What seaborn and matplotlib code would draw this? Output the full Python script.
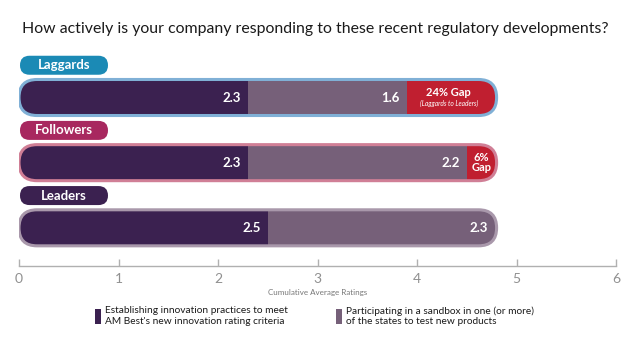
import matplotlib
matplotlib.use("Agg")
import matplotlib.pyplot as plt
import seaborn as sns
import numpy as np
from matplotlib.patches import FancyBboxPatch, Patch

# ---------------- data ----------------
categories = ["Laggards", "Followers", "Leaders"]
establishing = [2.3, 2.3, 2.5]
sandbox = [1.6, 2.2, 2.3]
gap = [0.9, 0.3, 0.0]
gap_labels = ["24% Gap", "6%\nGap", ""]
gap_sublabels = ["(Laggards to Leaders)", "", ""]
series_names = ["Establishing innovation practices to meet\nAM Best's new innovation rating criteria",
                "Participating in a sandbox in one (or more)\nof the states to test new products"]
xticks = [0, 1, 2, 3, 4, 5, 6]
title = "How actively is your company responding to these recent regulatory developments?"
xlabel = "Cumulative Average Ratings"

# ---------------- style ----------------
sns.set_theme(style="white")
plt.rcParams['font.family'] = ['Lato', 'DejaVu Sans']

c_dark = "#3b2150"
c_light = "#766079"
c_red = "#c01f30"
pill_colors = ["#1b8ab5", "#a8285f", "#3b2150"]
outline_colors = ["#80b0d6", "#d07f96", "#a998ab"]

W, H = 639, 338
fig = plt.figure(figsize=(W / 100, H / 100), dpi=100)
ax_left, ax_right = 19, 616
ax_top, ax_bottom = 50, 266
ax = fig.add_axes([ax_left / W, (H - ax_bottom) / H, (ax_right - ax_left) / W, (ax_bottom - ax_top) / H])

est = np.array(establishing)
sbx = np.array(sandbox)
gp = np.array(gap)
cum1 = est
cum2 = est + sbx
cum3 = cum2 + gp

bar_h = 0.553
layers = [(cum3, c_red), (cum2, c_light), (cum1, c_dark)]
layer_patches = []
for vals, col in layers:
    n0 = len(ax.patches)
    sns.barplot(x=vals, y=categories, orient="h", color=col, saturation=1,
                width=bar_h, linewidth=0, ax=ax)
    layer_patches.append(ax.patches[n0:])

ax.set_xlim(0, 6)
ax.set_ylim(2.586, -0.729)

# geometry for rounded shapes (px per data unit)
px_x = (ax_right - ax_left) / 6.0
px_y = (ax_bottom - ax_top) / (2.586 + 0.729)
aspect = px_x / px_y

for i in range(len(categories)):
    r = (bar_h * px_y / 2) / px_x
    clip = FancyBboxPatch((0, i - bar_h / 2), cum3[i], bar_h,
                          boxstyle=f"round,pad=0,rounding_size={r}",
                          mutation_aspect=aspect, transform=ax.transData)
    for plist in layer_patches:
        for p in plist:
            yc = p.get_y() + p.get_height() / 2
            if abs(yc - i) < 0.3:
                p.set_clip_path(clip)
    outline = FancyBboxPatch((0, i - bar_h / 2), cum3[i], bar_h,
                             boxstyle=f"round,pad=0,rounding_size={r}",
                             mutation_aspect=aspect, fill=False,
                             edgecolor=outline_colors[i], linewidth=2.2, zorder=5)
    ax.add_patch(outline)

    # category pill
    ph = 19 / px_y
    pw = 88 / px_x
    pr = (ph * px_y / 2) / px_x
    pill = FancyBboxPatch((0.01, i - 0.495 - ph / 2), pw, ph,
                          boxstyle=f"round,pad=0,rounding_size={pr}",
                          mutation_aspect=aspect, facecolor=pill_colors[i],
                          edgecolor="none", zorder=5)
    ax.add_patch(pill)
    ax.text(0.01 + pw / 2, i - 0.495, categories[i], color="white", fontsize=9.5,
            fontweight="bold", ha="center", va="center", zorder=6)

    # value labels
    pad = 7 / px_x
    ax.text(cum1[i] - pad, i, f"{est[i]:.1f}", color="white", fontsize=9.5,
            fontweight="bold", ha="right", va="center", zorder=6)
    ax.text(cum2[i] - (pad if gp[i] > 0 else 9 / px_x), i, f"{sbx[i]:.1f}", color="white",
            fontsize=9.5, fontweight="bold", ha="right", va="center", zorder=6)
    # gap labels
    if gap_labels[i]:
        xc = (cum2[i] + cum3[i]) / 2
        if gap_sublabels[i]:
            ax.text(xc - 0.03, i - 0.07, gap_labels[i], color="white", fontsize=8,
                    fontweight="bold", ha="center", va="center", zorder=6)
            ax.text(xc - 0.03, i + 0.085, gap_sublabels[i], color="white", fontsize=4.8,
                    style="italic", ha="center", va="center", zorder=6)
        else:
            ax.text(xc, i, gap_labels[i], color="white", fontsize=8, fontweight="bold",
                    ha="center", va="center", linespacing=0.95, zorder=6)

# axes styling
for s in ["top", "left", "right"]:
    ax.spines[s].set_visible(False)
ax.spines["bottom"].set_color("#b0b0b0")
ax.spines["bottom"].set_linewidth(1.0)
ax.set_xticks(xticks)
ax.set_xticklabels([str(t) for t in xticks])
ax.tick_params(axis="x", direction="in", length=5, color="#b0b0b0", width=1,
               labelsize=10, labelcolor="#909090", pad=5, bottom=True)
ax.set_yticks([])
ax.set_ylabel("")
ax.set_xlabel(xlabel, fontsize=5.8, color="#777777", labelpad=3)

fig.text(315 / W, 1 - 29.5 / H, title, ha="center", va="center", fontsize=11.4, color="#1a1a1a")

handles = [Patch(facecolor=c_dark, edgecolor="none"), Patch(facecolor=c_light, edgecolor="none")]
fig.legend(handles, series_names, loc="upper left", bbox_to_anchor=(95 / W, 1 - 306 / H),
           ncol=2, frameon=False, fontsize=7.3, handlelength=0.6, handleheight=1.9,
           handletextpad=0.4, columnspacing=4.7, borderpad=0, borderaxespad=0,
           labelspacing=0.2, labelcolor="#1a1a1a")

fig.savefig("out.png", dpi=100)
